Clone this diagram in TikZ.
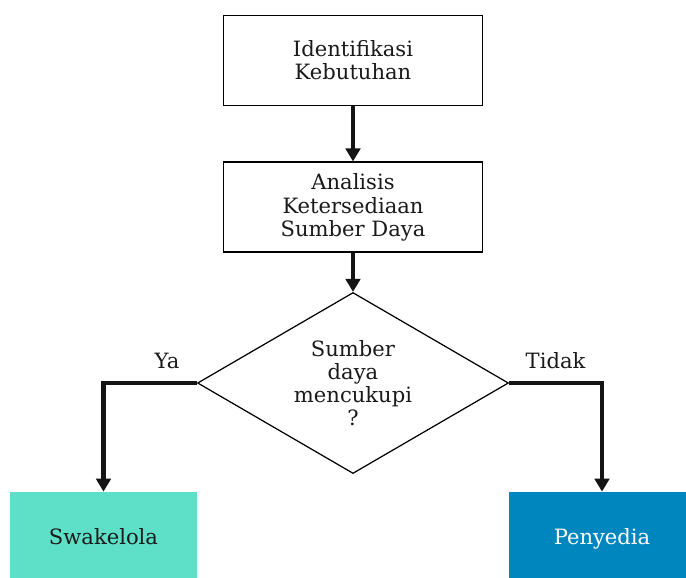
\documentclass[tikz,border=0pt]{standalone}
\usepackage{fontspec}
\setmainfont{DejaVu Serif}
\usepackage{tikz}
\usetikzlibrary{arrows.meta,positioning,shapes.geometric}
\definecolor{pbjtosca}{HTML}{5EDFC8}
\definecolor{pbjbiru}{HTML}{0086BF}
\definecolor{pbjteks}{HTML}{1A1A1A}
\tikzset{%
  pbjbox/.style={%
    draw=black,
    line width=1.1pt,
    fill=white,
    minimum width=5.18cm,
    minimum height=1.8cm,
    align=center,
    text=pbjteks,
    font=\fontsize{12}{13.2}\selectfont
  },
  pbjdecision/.style={%
    diamond,
    draw=black,
    line width=0.7pt,
    fill=white,
    aspect=1.72,
    minimum width=6.22cm,
    minimum height=3.62cm,
    inner sep=0pt,
    align=center,
    text=pbjteks,
    font=\fontsize{12}{13.2}\selectfont
  },
  pbjhasil/.style={%
    minimum width=3.74cm,
    minimum height=1.76cm,
    text height=1.0em,
    text depth=0.04em,
    align=center,
    font=\fontsize{12}{13.2}\selectfont
  },
  pbjarrow/.style={-{Triangle[width=2.9mm,length=2.6mm]},line width=2.6pt,draw=black!92},
  pbjlabel/.style={font=\fontsize{12}{13.2}\selectfont,text=pbjteks,inner sep=7pt}
}
\begin{document}
\begin{tikzpicture}[node distance=1.1cm]
    \useasboundingbox (0,0) rectangle (13.72,-11.56);
    \node[pbjbox] (ident) at (7.06,-1.21) {Identifikasi\\Kebutuhan};
    \node[pbjbox,below=of ident] (analisis) {Analisis\\Ketersediaan\\Sumber Daya};
    \node[pbjdecision,below=0.77cm of analisis] (cukup) {Sumber\\daya\\mencukupi\\?};
    \node[pbjhasil,fill=pbjtosca,text=pbjteks] (swa) at (2.07,-10.72) {Swakelola};
    \node[pbjhasil,fill=pbjbiru,text=white,minimum width=3.72cm] (peny) at (12.04,-10.72) {Penyedia};

    \draw[pbjarrow] (ident) -- (analisis);
    \draw[pbjarrow] (analisis) -- (cukup);
    \draw[pbjarrow] (cukup.west) -| node[pbjlabel,pos=0.16,above]{Ya} (swa.north);
    \draw[pbjarrow] (cukup.east) -| node[pbjlabel,pos=0.25,above]{Tidak} (peny.north);
  \end{tikzpicture}
\end{document}
